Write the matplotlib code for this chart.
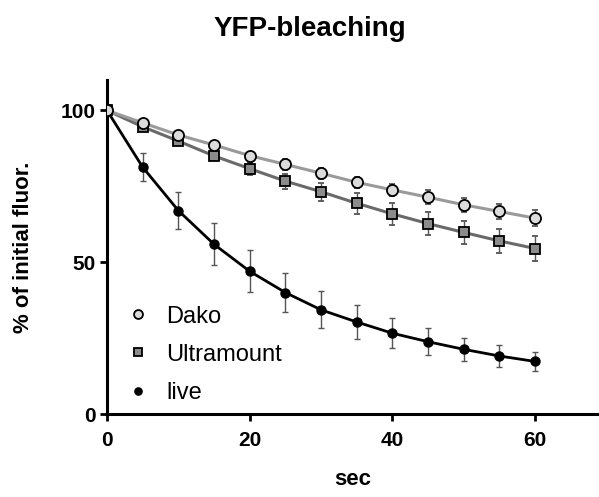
import matplotlib
matplotlib.use('Agg')
import matplotlib.pyplot as plt
import numpy as np

plt.rcParams['font.family'] = ['Liberation Sans', 'DejaVu Sans']

# data
sec = [0, 5, 10, 15, 20, 25, 30, 35, 40, 45, 50, 55, 60]

dako = [100, 95.9, 91.9, 88.6, 85.1, 82.2, 79.3, 76.3, 73.8, 71.4, 68.9, 66.7, 64.5]
dako_err = [0, 0.8, 1.0, 1.2, 1.0, 1.8, 1.8, 1.8, 2.0, 2.3, 2.3, 2.5, 2.6]

ultra = [100, 94.6, 89.9, 85.0, 80.8, 76.7, 73.2, 69.4, 65.9, 62.7, 59.8, 57.0, 54.5]
ultra_err = [0, 0.8, 1.0, 1.2, 2.0, 2.5, 2.9, 3.4, 3.6, 3.8, 3.9, 4.0, 4.2]

live = [100, 81.3, 67.0, 55.9, 47.0, 40.0, 34.3, 30.3, 26.6, 23.8, 21.3, 19.1, 17.3]
live_err = [0, 4.6, 6.1, 6.9, 6.9, 6.5, 6.1, 5.6, 5.0, 4.5, 3.8, 3.5, 3.0]

xticks = [0, 20, 40, 60]
yticks = [0, 50, 100]

fig = plt.figure(figsize=(5.99, 4.97), dpi=100)
ax = fig.add_axes([0.1786, 0.167, 0.8197, 0.672])

err_kw = dict(ecolor='#555555', elinewidth=1.0, capsize=2.5, capthick=1.0)

ax.errorbar(sec, live, yerr=live_err, color='black', lw=2.0, marker='o', ms=6.5,
            mfc='black', mec='black', label='live', zorder=3, **err_kw)
ax.errorbar(sec, ultra, yerr=ultra_err, color='#6a6a6a', lw=2.2, marker='s', ms=7.2,
            mfc='#8c8c8c', mec='black', mew=1.3, label='Ultramount', zorder=4, **err_kw)
ax.errorbar(sec, dako, yerr=dako_err, color='#9a9a9a', lw=2.2, marker='o', ms=8.0,
            mfc='#dcdcdc', mec='black', mew=1.3, label='Dako', zorder=5, **err_kw)

ax.set_xlim(0, 68.8)
ax.set_ylim(0, 110)
ax.set_xticks(xticks)
ax.set_yticks(yticks)
ax.tick_params(direction='out', length=5, width=2, labelsize=15)
ax.tick_params(axis='x', pad=7)
ax.tick_params(axis='y', pad=3)
for lab in ax.get_xticklabels() + ax.get_yticklabels():
    lab.set_fontweight('bold')

for s in ['top', 'right']:
    ax.spines[s].set_visible(False)
for s in ['left', 'bottom']:
    ax.spines[s].set_linewidth(2.2)
ax.spines['left'].set_zorder(2)

ax.set_xlabel('sec', fontsize=16, fontweight='bold', labelpad=14)
ax.set_ylabel('% of initial fluor.', fontsize=16, fontweight='bold', labelpad=19)
fig.text(0.518, 0.942, 'YFP-bleaching', fontsize=20, fontweight='bold', ha='center', va='center')

h, l = ax.get_legend_handles_labels()
h = [hh[0] for hh in h]
leg = ax.legend(h[::-1], l[::-1], loc='lower left', bbox_to_anchor=(0.0, -0.033),
                frameon=False, fontsize=17, handlelength=0.8, handletextpad=0.8,
                labelspacing=0.68, markerscale=0.8)
for hh in leg.legend_handles:
    hh.set_linestyle('none')

fig.savefig('out.png', dpi=100)
